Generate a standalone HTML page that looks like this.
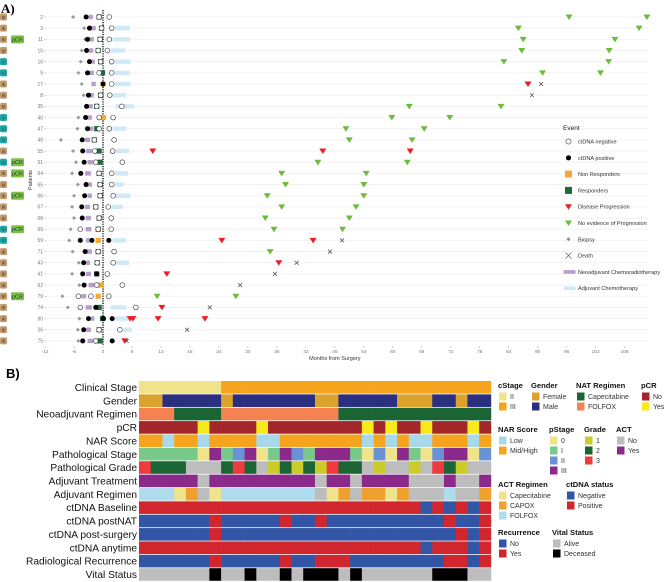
<!DOCTYPE html>
<html><head><meta charset="utf-8">
<style>
html,body{margin:0;padding:0;background:#fff;}
svg{display:block;font-family:"Liberation Sans",sans-serif;}
</style></head>
<body>
<svg id="fig" width="669" height="582" viewBox="0 0 669 582" xmlns="http://www.w3.org/2000/svg">
<text x="1" y="13" font-family="Liberation Serif" font-weight="bold" font-size="13">A)</text>
<text x="6" y="378" font-family="Liberation Sans" font-weight="bold" font-size="13">B)</text>
<g id="swimmer"></g>
<g id="heat"></g>
</svg>
<script>
// ---------- Panel A data ----------
const patients = [2,3,11,15,16,9,17,8,35,40,47,48,55,51,64,65,66,67,68,69,59,71,43,41,62,79,74,90,36,75];
const stageII = [16,9,40,47,48,51,69,59];
const pcrPatients = [11,51,64,66,69,79];
const biopsy = [-6.2,-3.9,-3.7,-4.4,-4.6,-5.1,-4.4,-4.0,null,-5.1,-5.3,-8.7,-6.2,-5.6,-6.4,-5.2,-6.0,-6.4,-6.0,-6.7,-7.0,-6.3,-5.0,-6.4,-4.9,-8.4,-7.3,-4.9,-5.2,-5.1];
const natStart = [-3.0,-2.5,-2.8,-2.9,-2.3,-2.8,-2.4,-2.7,-3.0,-3.2,-2.8,-3.7,-3.5,-3.2,-3.7,-3.0,-3.2,-3.7,-3.6,-3.6,-3.5,-3.4,-3.5,-3.5,-3.0,-4.5,-3.6,-2.5,-3.5,-3.2];
const natEnd = [-2.1,-1.5,-1.9,-2.0,-1.7,-1.9,-1.5,-1.9,-2.1,-2.3,-2.0,-2.7,-2.3,-2.1,-2.5,-2.3,-2.3,-2.7,-2.5,-2.4,-2.7,-2.3,-2.7,-2.5,-1.8,-3.5,-2.3,-1.8,-2.5,-2.0];
const respMonth = [-0.8,-0.3,-0.6,-1.0,-0.5,-0.1,0.0,-0.5,-1.3,0.1,-1.3,-1.8,-0.8,-0.6,-0.8,-0.6,-0.6,-1.5,-0.8,-1.0,-1.0,-1.0,-1.2,-1.3,-0.5,-1.0,-0.8,-0.1,-0.8,-0.6];
const respType = ['R','R','R','R','R','R','N','R','R','N','R','R','R','R','R','R','R','R','R','R','N','R','R','R','N','N','R','R','R','R'];
const ctNeg = [[-0.8,1.3],[-0.3,1.8],[-0.6,1.3],[-1.0,0.9],[-0.5,1.8],[-0.8,1.8],[1.8],[-0.5,1.4],[-1.3,3.9],[-0.8,2.1],[-0.8,1.3],[-1.8,2.3],[-1.7,2.0],[-1.5,4.0],[-0.8,1.8],[-0.6,1.8],[-0.6,2.1],[-1.5,1.1],[-0.8,1.7],[-4.7,-1.0,1.7],[],[-1.0,2.3],[-1.2,2.1],[0.9],[-1.3,4.0],[-5.1,-2.5,1.2],[-4.7,6.8],[],[-0.8,3.5],[-1.5]];
const ctPos = [[-3.5],[-2.8],[-3.2],[-3.4],[-2.8],[-3.2],[0.0],[-3.0],[-3.4],[-3.6],[-3.2],[-4.3],[-4.2],[-3.9],[-4.6],[-3.5],[-3.8],[-4.4],[-4.3],[],[-4.7,-2.3,1.2],[-3.7],[-4.0],[-4.2,-1.3],[-3.9],[],[-1.5],[-3.0,0.1,1.9],[-4.0],[-4.2,1.9]];
const adjStart = [null,2.5,2.0,1.6,2.5,2.5,2.5,2.0,2.6,null,2.0,null,2.7,null,2.5,2.5,2.7,1.8,null,null,2.0,null,2.7,null,null,null,1.6,2.5,4.3,null];
const adjEnd = [null,5.6,5.6,4.6,5.7,5.6,5.7,4.8,6.5,null,4.8,null,5.4,null,5.2,4.3,5.7,4.1,null,null,4.8,null,5.4,null,null,null,4.8,5.2,6.0,null];
const progression = [[],[],[],[],[],[],[88],[],[],[],[],[],[10.3,45.5,63.6],[],[],[],[],[],[],[],[24.6,43.5],[],[36.4],[13.2],[],[],[12.2],[5.6,6.2,11.4,21.1],[],[4.5]];
const noProgression = [[96.5,112.6],[86,111],[87,106],[86.7,104.8],[83,104.7],[91,103],[],[],[63.4,82.4],[59.8,71.8],[50.3,66.5],[51,64],[],[44.5,63],[37,54.5],[37.8,54],[34,54],[37,52.4],[33.6,51],[35.4,49.6],[],[34.6],[],[],[],[11.2,27.5],[],[],[],[]];
const death = [null,null,null,null,null,null,90.7,88.8,null,null,null,null,null,null,null,null,null,null,null,null,49.5,47,40.1,35.6,28.4,null,22.1,null,17.4,4.9];
const xTicks = [-12,-6,0,6,12,18,24,30,36,42,48,54,60,66,72,78,84,90,96,102,108];

// ---------- Panel B data ----------
const rowLabels = ["Clinical Stage","Gender","Neoadjuvant Regimen","pCR","NAR Score","Pathological Stage","Pathological Grade","Adjuvant Treatment","Adjuvant Regimen","ctDNA Baseline","ctDNA postNAT","ctDNA post-surgery","ctDNA anytime","Radiological Recurrence","Vital Status"];
const cStage = ['II','II','II','II','II','II','II','III','III','III','III','III','III','III','III','III','III','III','III','III','III','III','III','III','III','III','III','III','III','III'];
const gender = ['F','F','M','M','M','M','M','F','M','M','M','M','M','M','M','F','F','M','M','M','M','M','F','F','F','M','M','F','M','M'];
const natReg = ['FO','FO','FO','C','C','C','C','FO','FO','FO','FO','FO','FO','FO','FO','FO','FO','C','C','C','C','C','C','C','C','C','C','C','C','C'];
const pcr = ['N','N','N','N','N','Y','N','N','N','N','Y','N','N','N','N','N','N','N','N','Y','N','Y','N','N','Y','N','N','N','Y','N'];
const nar = ['M','M','L','M','M','L','M','M','M','M','L','L','M','M','M','M','M','M','M','L','M','L','M','L','L','M','M','M','L','M'];
const pStage = ['I','I','I','I','I','0','III','I','II','III','0','I','III','II','I','III','III','III','I','0','II','0','III','I','0','II','III','III','0','II'];
const grade = ['3','2','2','2','NA','NA','NA','2','3','2','NA','1','2','1','2','1','3','2','2','NA','1','NA','NA','1','NA','3','2','1','NA','NA'];
const act = ['Y','Y','Y','Y','Y','N','Y','Y','Y','Y','Y','Y','Y','Y','Y','N','Y','Y','N','Y','Y','Y','Y','N','N','N','Y','N','N','Y'];
const actReg = ['F','F','F','Cp','CX','NA','Cp','F','F','F','F','F','F','F','F','NA','Cp','CX','NA','CX','CX','Cp','CX','NA','NA','NA','F','NA','NA','CX'];
const ctBase = ['P','P','P','P','P','P','P','P','P','P','P','P','P','P','P','P','P','P','P','P','P','P','P','P','N','P','N','P','N','P'];
const ctPostNat = ['N','N','N','N','N','N','P','N','N','N','N','N','P','N','N','P','N','N','N','N','N','N','N','N','N','N','P','N','N','P'];
const ctPostSurg = ['N','N','N','N','N','N','P','N','N','N','N','N','N','N','N','N','N','N','N','N','N','N','N','N','N','N','N','P','N','P'];
const ctAny = ['P','P','P','P','P','P','P','P','P','P','P','P','P','P','P','P','P','P','P','P','P','P','P','P','N','P','P','P','N','P'];
const recur = ['N','N','N','N','N','N','P','N','N','N','N','N','P','N','N','P','P','P','N','N','N','N','N','N','N','N','P','P','N','P'];
const vital = ['A','A','A','A','A','A','D','A','A','D','A','A','D','A','D','D','D','A','D','A','A','A','A','A','A','D','D','D','A','A'];

const NS='http://www.w3.org/2000/svg';
function mk(tag, attrs, parent){const e=document.createElementNS(NS,tag);for(const k in attrs)e.setAttribute(k,attrs[k]);parent.appendChild(e);return e;}

// ---------- Panel A drawing ----------
const A = document.getElementById('swimmer');
const x0 = 103, pxPerMonth = 4.83, yTop = 17, rowStep = 11.17;
const xs = m => x0 + m*pxPerMonth;
const ys = i => yTop + i*rowStep;
const GREEN='#6dbb3c', RED='#ee1c24', DKG='#1e6b39', ORG='#f7a833', PURP='#b99ccb', LBLUE='#cfe9f7';

patients.forEach((p,i)=>{
  const y = ys(i);
  let g = mk('line',{x1:48,x2:648,y1:y,y2:y,stroke:'#efefef','stroke-width':0.8},A);
  
  
  let t = mk('text',{x:43,y:y+1.8,'font-size':5,'text-anchor':'end',fill:'#777'},A);
  t.textContent = p;
  
  
  mk('line',{x1:44.5,x2:46.5,y1:y,y2:y,stroke:'#999','stroke-width':0.5},A);
  const teal = stageII.includes(p);
  let b = mk('rect',{x:0,y:y-3.5,width:7,height:7,rx:1.5,fill:teal?'#1ba6a6':'#c29a6a'},A);
  
  
  let bt = mk('text',{x:3.5,y:y+1.8,'font-size':4.5,'text-anchor':'middle',fill:'#333'},A);
  bt.textContent = teal?'II':'III';
  if(pcrPatients.includes(p)){
    let pb = mk('rect',{x:11,y:y-4,width:13,height:8,rx:1.5,fill:'#7cc443'},A);
    
    
    let pt = mk('text',{x:17.5,y:y+2,'font-size':5.5,'text-anchor':'middle',fill:'#234'},A);
    pt.textContent='pCR';
  }
});
// dotted zero line
let zl = mk('line',{x1:xs(0),x2:xs(0),y1:10,y2:346,stroke:'#000','stroke-width':1.3,'stroke-dasharray':'1.2,1.2'},A);



function tri(x,y,color){
  const e = mk('path',{d:`M${x-3.5},${y-2.5} L${x+3.5},${y-2.5} L${x},${y+3} Z`,fill:color},A);
  return e;
}
patients.forEach((p,i)=>{
  const y = ys(i);
  if(adjStart[i]!==null){
    let r = mk('rect',{x:xs(adjStart[i]),y:y-2.2,width:xs(adjEnd[i])-xs(adjStart[i]),height:4.4,fill:LBLUE},A);
    
    
  }
  let n = mk('rect',{x:xs(natStart[i]),y:y-2.2,width:xs(natEnd[i])-xs(natStart[i]),height:4.4,fill:PURP},A);
  
  
  if(biopsy[i]!==null){
    const bx = xs(biopsy[i]);
    let d = mk('path',{d:`M${bx},${y-2} L${bx+2},${y} L${bx},${y+2} L${bx-2},${y} Z`,fill:'#999'},A);
    
    
  }
  let sq = mk('rect',{x:xs(respMonth[i])-2.6,y:y-2.6,width:5.2,height:5.2,fill:respType[i]==='R'?DKG:ORG},A);
  
  
  ctNeg[i].forEach(m=>{
    let c = mk('circle',{cx:xs(m),cy:y,r:2.4,fill:'#fff',stroke:'#333','stroke-width':0.6},A);
    
    
  });
  ctPos[i].forEach(m=>{
    let c = mk('circle',{cx:xs(m),cy:y,r:2.5,fill:'#000'},A);
    
    
  });
  noProgression[i].forEach(m=>{
    let e = tri(xs(m),y,GREEN);
    
    
  });
  progression[i].forEach(m=>{
    let e = tri(xs(m),y,RED);
    
    
  });
  if(death[i]!==null){
    const dx = xs(death[i]);
    let e = mk('path',{d:`M${dx-2},${y-2} L${dx+2},${y+2} M${dx+2},${y-2} L${dx-2},${y+2}`,stroke:'#444','stroke-width':0.7,fill:'none'},A);
    
    
  }
});
// x axis
xTicks.forEach(v=>{
  const x = xs(v);
  mk('line',{x1:x,x2:x,y1:346,y2:348,stroke:'#999','stroke-width':0.5},A);
  let t = mk('text',{x:x,y:353,'font-size':4.8,'text-anchor':'middle',fill:'#777'},A);
  t.textContent = v;
  
  
});
let xt = mk('text',{x:xs(48),y:360,'font-size':5.5,'text-anchor':'middle',fill:'#333'},A);
xt.textContent='Months from Surgery';


let yt = mk('text',{x:32,y:180,'font-size':5.5,'text-anchor':'middle',fill:'#333',transform:'rotate(-90 32 180)'},A);
yt.textContent='Patients';


// legend
const legLabels = ['ctDNA negative','ctDNA positive','Non Responders','Responders','Disease Progression','No evidence of Progression','Biopsy','Death','Neoadjuvant Chemoradiotherapy','Adjuvant Chemotherapy'];
let lt = mk('text',{x:563,y:130,'font-size':6.5,fill:'#222'},A);
lt.textContent='Event';


legLabels.forEach((lab,k)=>{
  const y = 141.5 + k*16.3, cx = 568.5;
  if(k===0) mk('circle',{cx:cx,cy:y,r:2.6,fill:'#fff',stroke:'#333','stroke-width':0.6},A);
  if(k===1) mk('circle',{cx:cx,cy:y,r:2.6,fill:'#000'},A);
  if(k===2) mk('rect',{x:cx-3.5,y:y-3.5,width:7,height:7,fill:ORG},A);
  if(k===3) mk('rect',{x:cx-3.5,y:y-3.5,width:7,height:7,fill:DKG},A);
  if(k===4) tri(cx,y,RED);
  if(k===5) tri(cx,y,GREEN);
  if(k===6) mk('path',{d:`M${cx},${y-2} L${cx+2},${y} L${cx},${y+2} L${cx-2},${y} Z`,fill:'#888'},A);
  if(k===7) mk('path',{d:`M${cx-3},${y-3} L${cx+3},${y+3} M${cx+3},${y-3} L${cx-3},${y+3}`,stroke:'#444','stroke-width':0.6},A);
  if(k===8) mk('rect',{x:cx-5,y:y-1.8,width:12,height:3.6,fill:PURP},A);
  if(k===9) mk('rect',{x:cx-5,y:y-1.8,width:12,height:3.6,fill:LBLUE},A);
  let t = mk('text',{x:578,y:y+2,'font-size':5.6,fill:'#333'},A);
  t.textContent = lab;
  
  
});

// ---------- Panel B drawing ----------
const H = document.getElementById('heat');
const pal = {
  cStage:{II:'#efe48c',III:'#f6a31d'},
  gender:{F:'#dba22c',M:'#2a2f7f'},
  natReg:{C:'#1b6535',FO:'#f58250'},
  pcr:{N:'#a3272a',Y:'#f8ea1a'},
  nar:{L:'#a9d9e8',M:'#f6a31d'},
  pStage:{'0':'#efe48c',I:'#79c98b',II:'#6a93d6',III:'#8c2a8b'},
  grade:{'1':'#cbcb2a',2:'#1b6535','3':'#ef3b3e',NA:'#bdbdbd'},
  act:{N:'#bdbdbd',Y:'#8c2a8b'},
  actReg:{Cp:'#efe48c',CX:'#f0a02e',F:'#aedcec',NA:'#bdbdbd'},
  ct:{N:'#3355a5',P:'#d1262d'},
  vital:{A:'#bdbdbd',D:'#000'}
};
const rows = [[cStage,pal.cStage],[gender,pal.gender],[natReg,pal.natReg],[pcr,pal.pcr],[nar,pal.nar],[pStage,pal.pStage],[grade,pal.grade],[act,pal.act],[actReg,pal.actReg],[ctBase,pal.ct],[ctPostNat,pal.ct],[ctPostSurg,pal.ct],[ctAny,pal.ct],[recur,pal.ct],[vital,pal.vital]];
const hx0 = 139, colW = 11.73, hy0 = 381, hStep = 13.37, hH = 12.6;
rows.forEach((r,ri)=>{
  const y = hy0 + ri*hStep;
  let t = mk('text',{x:137,y:y+hH/2+3.6,'font-size':10.2,'text-anchor':'end',fill:'#111'},H);
  t.textContent = rowLabels[ri];
  
  
  r[0].forEach((v,ci)=>{
    let c = mk('rect',{x:hx0+ci*colW,y:y,width:colW+0.3,height:hH,fill:r[1][v]},H);
    
    
  });
});
// heatmap legends
function legTitle(x,y,s){let t=mk('text',{x:x,y:y,'font-size':7.6,'font-weight':'bold',fill:'#111'},H);t.textContent=s;}
function legItem(x,y,color,s){mk('rect',{x:x,y:y-5.5,width:7.5,height:8,fill:color},H);let t=mk('text',{x:x+11,y:y+1.2,'font-size':7,fill:'#333'},H);t.textContent=s;}
legTitle(498,388,'cStage'); legItem(499,398,pal.cStage.II,'II'); legItem(499,408,pal.cStage.III,'III');
legTitle(531,388,'Gender'); legItem(532,398,pal.gender.F,'Female'); legItem(532,408,pal.gender.M,'Male');
legTitle(576,388,'NAT Regimen'); legItem(577,398,pal.natReg.C,'Capecitabine'); legItem(577,408,pal.natReg.FO,'FOLFOX');
legTitle(641,388,'pCR'); legItem(642,398,pal.pcr.N,'No'); legItem(642,408,pal.pcr.Y,'Yes');
legTitle(498,432,'NAR Score'); legItem(499,442,pal.nar.L,'Low'); legItem(499,452,pal.nar.M,'Mid/High');
legTitle(549,432,'pStage'); legItem(550,442,pal.pStage['0'],'0'); legItem(550,452,pal.pStage.I,'I'); legItem(550,462,pal.pStage.II,'II'); legItem(550,472,pal.pStage.III,'III');
legTitle(584,432,'Grade'); legItem(585,442,pal.grade['1'],'1'); legItem(585,452,pal.grade[2],'2'); legItem(585,462,pal.grade['3'],'3');
legTitle(616,432,'ACT'); legItem(617,442,pal.act.N,'No'); legItem(617,452,pal.act.Y,'Yes');
legTitle(498,487,'ACT Regimen'); legItem(499,497,pal.actReg.Cp,'Capecitabine'); legItem(499,507,pal.actReg.CX,'CAPOX'); legItem(499,517,pal.actReg.F,'FOLFOX');
legTitle(566,487,'ctDNA status'); legItem(567,497,pal.ct.N,'Negative'); legItem(567,507,pal.ct.P,'Positive');
legTitle(498,535,'Recurrence'); legItem(499,545,pal.ct.N,'No'); legItem(499,555,pal.ct.P,'Yes');
legTitle(552,535,'Vital Status'); legItem(553,545,pal.vital.A,'Alive'); legItem(553,555,pal.vital.D,'Deceased');
</script>
</body></html>
